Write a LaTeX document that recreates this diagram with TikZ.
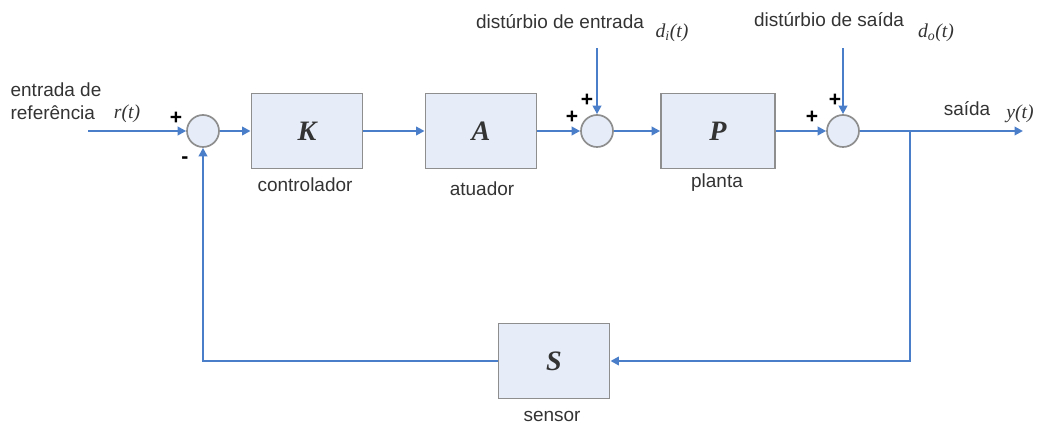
\documentclass[tikz,border=0pt]{standalone}
\usepackage{fontspec}
\setmainfont{Liberation Sans}
\newfontfamily\varfont{Liberation Serif}
\usetikzlibrary{arrows.meta}
\definecolor{sigblue}{HTML}{4A7EC8}
\definecolor{blkfill}{HTML}{E6EDF8}
\definecolor{blkgray}{HTML}{8E8E8E}
\definecolor{txtgray}{HTML}{333333}

\begin{document}
\begin{tikzpicture}[x=0.025cm, y=-0.025cm,
    blk/.style={draw=blkgray, fill=blkfill, line width=1.2pt,
                minimum width=2.78cm, minimum height=1.87cm,
                font=\fontsize{20}{22}\selectfont\varfont\bfseries\itshape, text=txtgray},
    sumj/.style={circle, draw=blkgray, fill=blkfill, line width=1.2pt,
                 minimum size=0.8cm, inner sep=0pt},
    sig/.style={-{Triangle[length=6pt, width=6pt]}, sigblue, line width=1.5pt},
    lbl/.style={font=\fontsize{13.5}{16}\selectfont, text=txtgray, inner sep=0pt},
    var/.style={font=\fontsize{14}{16}\selectfont\varfont\itshape, text=txtgray, inner sep=0pt},
    sgn/.style={font=\fontsize{15}{16}\selectfont\bfseries, inner sep=0pt},
]
    \useasboundingbox (0,0) rectangle (1037,425);

    % forward path
    \coordinate (ref) at (88,131);
    \node[sumj] (s1) at (203,131) {};
    \node[blk] (K) at (307,131) {K};
    \node[blk] (A) at (481,131) {A};
    \node[sumj] (s2) at (597,131) {};
    \node[blk, minimum width=2.85cm] (P) at (718,131) {P};
    \node[sumj] (s3) at (843,131) {};
    \coordinate (br) at (910,131);
    \coordinate (yout) at (1023,131);
    \node[blk] (S) at (554,361) {S};

    % disturbance inputs
    \coordinate (di) at (597,48);
    \coordinate (do) at (843,48);

    \draw[sig] (ref) -- (s1);
    \draw[sig] (s1) -- (K);
    \draw[sig] (K) -- (A);
    \draw[sig] (A) -- (s2);
    \draw[sig] (s2) -- (P);
    \draw[sig] (P) -- (s3);
    \draw[sig] (s3) -- (yout);
    \draw[sig] (di) -- (s2);
    \draw[sig] (do) -- (s3);

    % feedback
    \draw[sig] (br) |- (S);
    \draw[sig] (S) -| (s1);

    % labels
    \node[lbl, align=left] (reflbl) at (56,101) {entrada de\\referência};
    \node[var] (rt) at (127,114) {r(t)};
    \node[lbl] (klbl) at (305,185) {controlador};
    \node[lbl] (albl) at (482,189) {atuador};
    \node[lbl] (plbl) at (717,183) {planta};
    \node[lbl] (slbl) at (552,416) {sensor};
    \node[lbl] (dilbl) at (560,22) {distúrbio de entrada};
    \node[var] (dit) at (672,33) {d\textsubscript{i}(t)};
    \node[lbl] (dolbl) at (829,20) {distúrbio de saída};
    \node[var] (dot) at (936,33) {d\textsubscript{o}(t)};
    \node[lbl] (ylbl) at (967,109) {saída};
    \node[var] (yt) at (1020,114) {y(t)};

    % signs
    \node[sgn] (p1) at (176,118) {+};
    \node[sgn] (m1) at (185,160) {-};
    \node[sgn] (p2a) at (572,117) {+};
    \node[sgn] (p2b) at (587,100) {+};
    \node[sgn] (p3a) at (812,117) {+};
    \node[sgn] (p3b) at (835,100) {+};
\end{tikzpicture}
\end{document}
